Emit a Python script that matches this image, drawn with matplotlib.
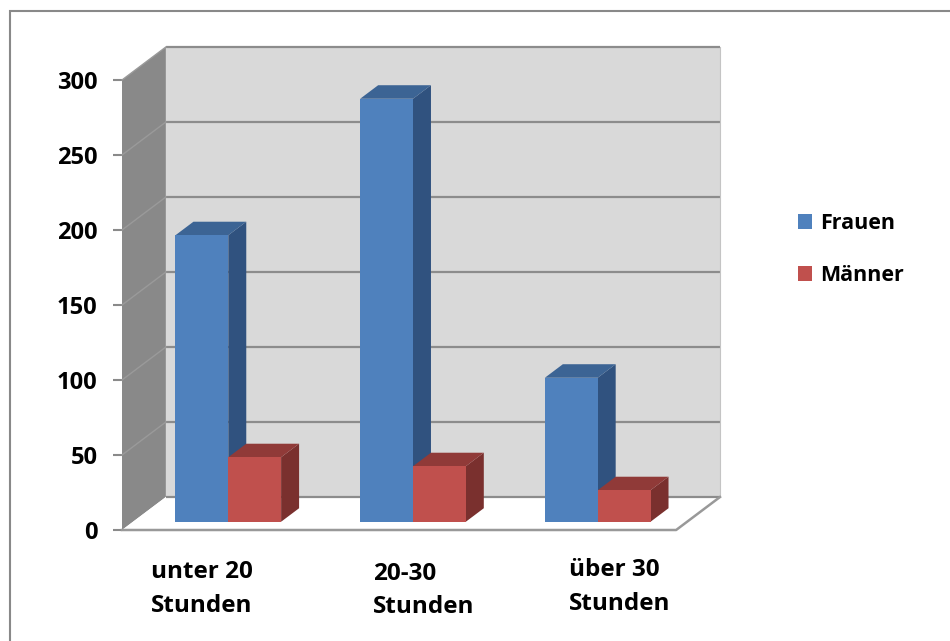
import matplotlib
matplotlib.use('Agg')
import numpy as np
from matplotlib import pyplot as plt
from matplotlib.patches import Polygon, Rectangle

# data
categories = ['unter 20\nStunden', '20-30\nStunden', 'über 30\nStunden']
series = ['Frauen', 'Männer']
frauen = [191, 282, 96]
maenner = [43, 37, 21]
yticks = [0, 50, 100, 150, 200, 250, 300]

# fake 3d: depth of the whole box in (category, value) units
DX, DY = 0.2375, 22
Z0, ZD = 0.25, 0.41      # front of bars / bar depth, as fraction of box depth
BAR_W = 0.286
SHIFT = 0.016

# front, top, side
blue = ('#4F81BD', '#3C6494', '#30527F')
red = ('#C0504D', '#903A38', '#7A302E')

plt.rcParams['font.family'] = ['Open Sans', 'DejaVu Sans']
plt.rcParams['font.weight'] = 'bold'

fig = plt.figure(figsize=(9.5, 6.41), dpi=100)
ax = fig.add_axes([122/950, 111/641, 598/950, 483/641])
n = len(categories)
top = yticks[-1]
ax.set_xlim(0, n + DX)
ax.set_ylim(0, top + DY)
for s in ax.spines.values():
    s.set_visible(False)
ax.set_xticks([])
ax.set_yticks(yticks)
ax.tick_params(axis='y', length=6.5, width=1.5, color='#8a8a8a', pad=11, labelsize=17)

# walls + floor
ax.add_patch(Polygon([(0, 0), (0, top), (DX, top + DY), (DX, DY)], fc='#898989', ec='none', zorder=1, clip_on=False))
ax.add_patch(Polygon([(DX, DY), (DX, top + DY), (n + DX, top + DY), (n + DX, DY)], fc='#D9D9D9', ec='none', zorder=1, clip_on=False))
ax.add_patch(Polygon([(0, 0), (n, 0), (n + DX, DY), (DX, DY)], fc='white', ec='none', zorder=1, clip_on=False))

for v in yticks:
    ax.plot([DX, n + DX], [v + DY, v + DY], color='#8c8c8c', lw=1.6, zorder=2, clip_on=False, solid_capstyle='butt')
    if v > 0:
        ax.plot([0, DX], [v, v + DY], color='#9a9a9a', lw=1.0, zorder=2, clip_on=False)
ax.plot([n + DX, n + DX], [DY, top + DY], color='#c4c4c4', lw=0.8, zorder=2, clip_on=False)
ax.plot([0, n, n + DX], [0, 0, DY], color='#999999', lw=1.8, zorder=2, clip_on=False)

# bars
x = np.arange(n) + 0.5 + Z0 * DX + SHIFT
zy = Z0 * DY
ddx, ddy = ZD * DX, ZD * DY
for k, (vals, cols) in enumerate([(frauen, blue), (maenner, red)]):
    bars = ax.bar(x + (k - 0.5) * BAR_W, vals, width=BAR_W, bottom=zy, color=cols[0],
                  label=series[k], zorder=5, clip_on=False)
    for r in bars:
        x0, y0, w, h = r.get_x(), r.get_y(), r.get_width(), r.get_height()
        # side
        ax.add_patch(Polygon([(x0 + w, y0), (x0 + w, y0 + h), (x0 + w + ddx, y0 + h + ddy), (x0 + w + ddx, y0 + ddy)],
                             fc=cols[2], ec='none', zorder=4 + 0.1 * k, clip_on=False))
        # top
        ax.add_patch(Polygon([(x0, y0 + h), (x0 + w, y0 + h), (x0 + w + ddx, y0 + h + ddy), (x0 + ddx, y0 + h + ddy)],
                             fc=cols[1], ec='none', zorder=4 + 0.1 * k, clip_on=False))

# category labels (left aligned like the original)
label_x = [0.157, 1.36, 2.42]
label_y = [-20, -21, -19]
for lx, ly, c in zip(label_x, label_y, categories):
    ax.text(lx, ly, c, ha='left', va='top', fontsize=17.5, linespacing=1.55, clip_on=False)

ax.legend(loc='upper left', bbox_to_anchor=(798/950, 428/641), bbox_transform=fig.transFigure,
          frameon=False, fontsize=15.5, handlelength=0.66, handleheight=0.72, handletextpad=0.35,
          labelspacing=1.45, borderpad=0, borderaxespad=0)

# outer chart border (runs off the right and bottom edge)
fig.patches.append(Rectangle((10/950, -0.1), 2, 1.1 - 11/641, transform=fig.transFigure,
                             fill=False, ec='#898989', lw=1.5))

plt.savefig('out.png', dpi=100)
